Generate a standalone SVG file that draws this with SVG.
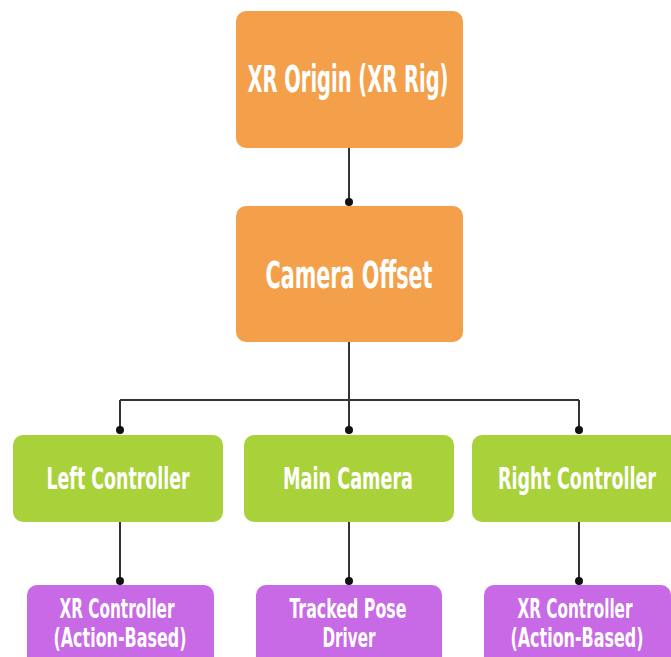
<svg xmlns="http://www.w3.org/2000/svg" width="671" height="657" viewBox="0 0 671 657">
<defs>
<style>
.o{fill:#F4A04A}
.g{fill:#A8D13A}
.p{fill:#C86AE6}
text{font-family:"DejaVu Sans Condensed","DejaVu Sans","Liberation Sans",sans-serif;font-weight:bold;fill:#fff;text-anchor:middle}
.big{font-size:37px}
.mid{font-size:30px}
.sm{font-size:26px}
.c{stroke:#333;stroke-width:2;fill:none}
.d{fill:#111}
</style>
</defs>
<rect width="671" height="657" fill="#fff"/>
<g id="connectors">
<path class="c" d="M349 148V202"/>
<path class="c" d="M349 342V400M120 400H579M120 400V430M349 400V430M579 400V430"/>
<path class="c" d="M120 522V581M349 522V581M579 522V581"/>
<circle class="d" cx="349" cy="202" r="4"/>
<circle class="d" cx="120" cy="430" r="4"/>
<circle class="d" cx="349" cy="430" r="4"/>
<circle class="d" cx="579" cy="430" r="4"/>
<circle class="d" cx="120" cy="581" r="4"/>
<circle class="d" cx="349" cy="581" r="4"/>
<circle class="d" cx="579" cy="581" r="4"/>
</g>
<g id="xr-origin"><rect class="o" x="236" y="11" width="227" height="137" rx="10"/><text class="big" x="348" y="92" textLength="201" lengthAdjust="spacingAndGlyphs">XR Origin (XR Rig)</text></g>
<g id="camera-offset"><rect class="o" x="236" y="206" width="227" height="136" rx="10"/><text class="big" x="349" y="288" textLength="167" lengthAdjust="spacingAndGlyphs">Camera Offset</text></g>
<g id="left-controller"><rect class="g" x="13" y="435" width="210" height="87" rx="10"/><text class="mid" x="118" y="489" textLength="143" lengthAdjust="spacingAndGlyphs">Left Controller</text></g>
<g id="main-camera"><rect class="g" x="244" y="435" width="210" height="87" rx="10"/><text class="mid" x="348" y="489" textLength="130" lengthAdjust="spacingAndGlyphs">Main Camera</text></g>
<g id="right-controller"><rect class="g" x="472" y="435" width="210" height="87" rx="10"/><text class="mid" x="577" y="489" textLength="158" lengthAdjust="spacingAndGlyphs">Right Controller</text></g>
<g id="xr-controller-left"><rect class="p" x="27" y="585" width="187" height="90" rx="10"/><text class="sm" x="117" y="618" textLength="115" lengthAdjust="spacingAndGlyphs">XR Controller</text><text class="sm" x="120" y="647" textLength="133" lengthAdjust="spacingAndGlyphs">(Action-Based)</text></g>
<g id="tracked-pose-driver"><rect class="p" x="256" y="585" width="186" height="90" rx="10"/><text class="sm" x="348" y="618" textLength="117" lengthAdjust="spacingAndGlyphs">Tracked Pose</text><text class="sm" x="349" y="647" textLength="53" lengthAdjust="spacingAndGlyphs">Driver</text></g>
<g id="xr-controller-right"><rect class="p" x="484" y="585" width="187" height="90" rx="10"/><text class="sm" x="575" y="618" textLength="115" lengthAdjust="spacingAndGlyphs">XR Controller</text><text class="sm" x="577" y="647" textLength="133" lengthAdjust="spacingAndGlyphs">(Action-Based)</text></g>
</svg>
